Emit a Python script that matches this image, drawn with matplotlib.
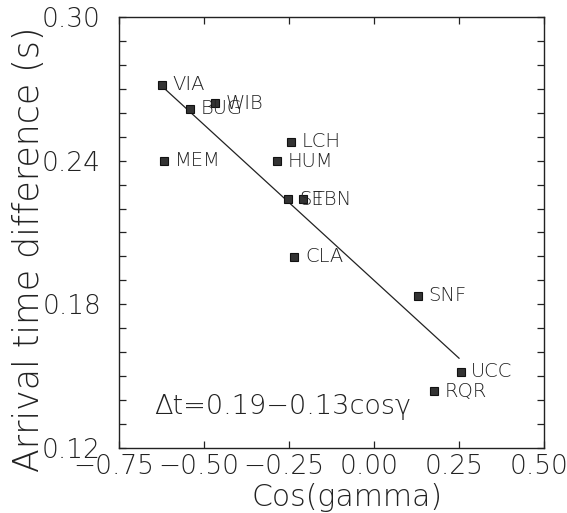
import numpy as np
import matplotlib
matplotlib.use('Agg')
import matplotlib.pyplot as plt
import matplotlib.transforms as mtransforms
from matplotlib.ticker import MultipleLocator

# station positions: cos(gamma) vs arrival time difference (s)
stations = ['VIA', 'BUG', 'WIB', 'MEM', 'LCH', 'HUM', 'SE', 'TBN', 'CLA', 'SNF', 'UCC', 'RQR']
cos_gamma = [-0.624, -0.541, -0.468, -0.617, -0.244, -0.286, -0.252, -0.210, -0.234, 0.130, 0.255, 0.177]
dt = [0.2716, 0.2616, 0.2640, 0.2400, 0.2479, 0.2398, 0.2239, 0.2239, 0.1999, 0.1836, 0.1518, 0.1438]

# linear fit dt = a + b*cos(gamma)
fit_a, fit_b = 0.19, -0.13
fit_range = [-0.63, 0.25]

xticks = [-0.75, -0.50, -0.25, 0.00, 0.25, 0.50]
yticks = [0.12, 0.18, 0.24, 0.30]

plt.rcParams['font.family'] = ['DejaVu Sans']
ink = '#222222'

fig = plt.figure(figsize=(5.67, 5.13), dpi=100)
ax = fig.add_axes([0.2099, 0.1267, 0.7496, 0.8402])

xf = np.array(fit_range)
ax.plot(xf, fit_a + fit_b * xf, color=ink, lw=0.9)
ax.plot(cos_gamma, dt, 's', ms=6, mfc='#333333', mec='#111111', mew=0.8, ls='none')

for name, x, y in zip(stations, cos_gamma, dt):
    ax.annotate(name, (x, y), xytext=(7.5, 0), textcoords='offset points',
                va='center', ha='left', fontsize=14, color=ink, fontweight='light')

ax.text(-0.647, 0.137, 'Δt=0.19−0.13cosγ', fontsize=19.5, color=ink,
        va='center', ha='left', fontweight='light')

ax.set_xlim(-0.75, 0.50)
ax.set_ylim(0.12, 0.30)
ax.set_xticks(xticks)
ax.set_xticklabels([('%.2f' % v).replace('-', '−') for v in xticks])
ax.set_yticks(yticks)
ax.set_yticklabels(['%.2f' % v for v in yticks])
ax.yaxis.set_minor_locator(MultipleLocator(0.01))

ax.tick_params(which='both', direction='in', top=True, right=True,
               length=5, width=0.9, color=ink)
ax.tick_params(axis='x', labelsize=19, pad=4, labelcolor=ink)
ax.tick_params(axis='y', labelsize=19, pad=13, labelcolor=ink)

# x tick labels sit a little left of their ticks
shift = mtransforms.ScaledTranslation(-5 / 100, 0, fig.dpi_scale_trans)
for lab in ax.get_xticklabels():
    lab.set_transform(lab.get_transform() + shift)
for lab in ax.get_xticklabels() + ax.get_yticklabels():
    lab.set_fontweight('light')
for sp in ax.spines.values():
    sp.set_linewidth(1.0)
    sp.set_color(ink)

ax.set_xlabel('Cos(gamma)', fontsize=21.5, color=ink, fontweight='light')
ax.set_ylabel('Arrival time difference (s)', fontsize=25, color=ink, fontweight='light')
ax.xaxis.set_label_coords(0.536, -0.082)
ax.yaxis.set_label_coords(-0.172, 0.462)

fig.savefig('out.png', dpi=100)
